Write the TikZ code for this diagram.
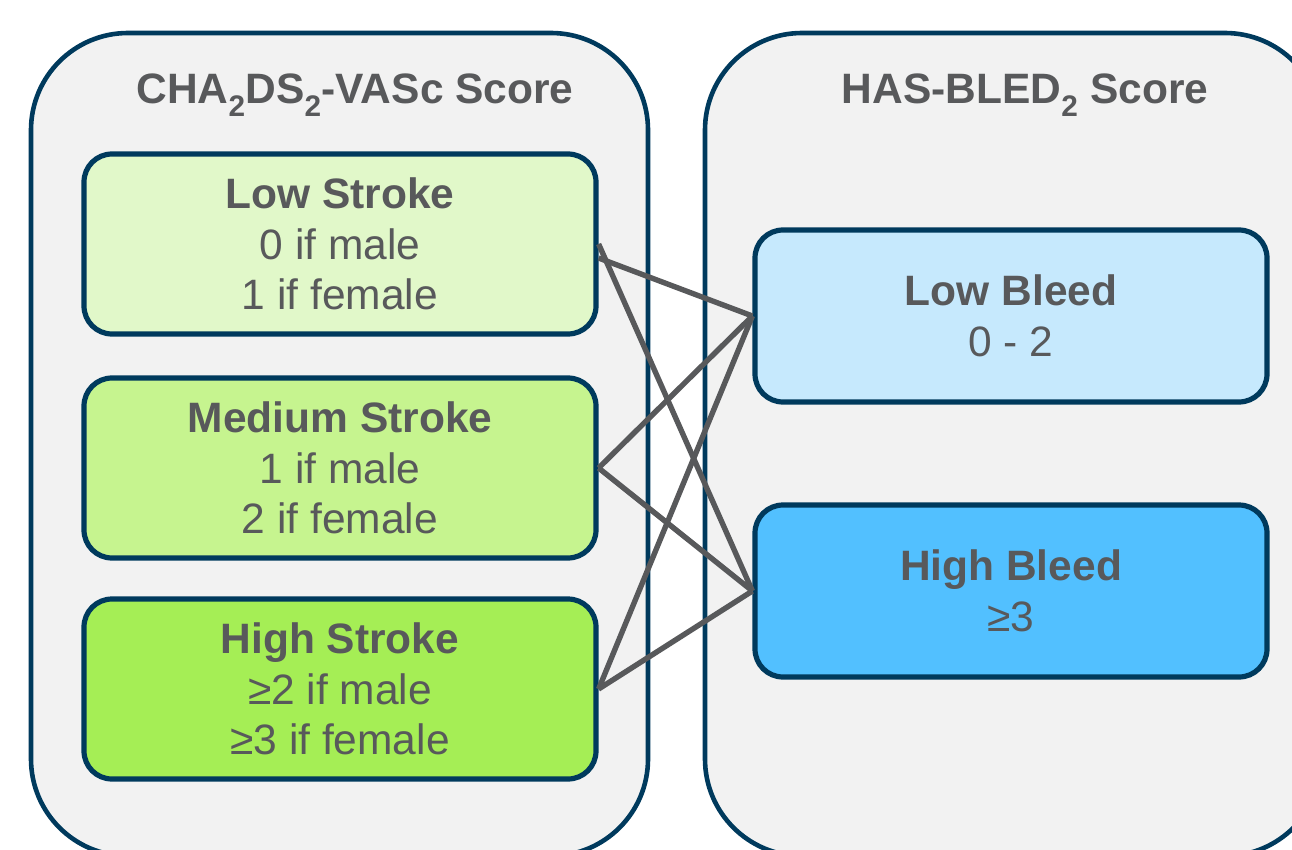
\documentclass[tikz,border=0pt]{standalone}
\usepackage{fontspec}
\setmainfont{Liberation Sans}
\usetikzlibrary{calc}

\definecolor{navy}{HTML}{003A5D}
\definecolor{panel}{HTML}{F2F2F2}
\definecolor{ink}{HTML}{58595B}
\definecolor{strokelow}{HTML}{E1F8C9}
\definecolor{strokemed}{HTML}{C6F48F}
\definecolor{strokehigh}{HTML}{A5EE55}
\definecolor{bleedlow}{HTML}{C6E9FD}
\definecolor{bleedhigh}{HTML}{52C0FF}

\tikzset{
  panelbox/.style={draw=navy, line width=4.6pt, fill=panel, rounded corners=97pt},
  paneltitle/.style={text=ink, inner sep=0pt, anchor=base,
    font=\fontsize{42.5}{50}\selectfont\bfseries},
  catbox/.style={draw=navy, line width=5.2pt, rounded corners=28pt,
    minimum width=512pt, inner sep=0pt, align=center, text=ink,
    font=\fontsize{42.5}{50.5}\selectfont},
  link/.style={draw=ink, line width=5.4pt}
}

\begin{document}
\begin{tikzpicture}[x=1pt, y=-1pt]
  \useasboundingbox (0,0) rectangle (1292,850);
  \clip (0,0) rectangle (1292,850);

  % the two score panels
  \path[panelbox] (31,33) rectangle (648,856);
  \path[panelbox] (705,33) rectangle (1322,856);

  \node[paneltitle] (cha) at (355,104)
    {CHA\textsubscript{2}DS\textsubscript{2}-VASc Score};
  \node[paneltitle] (has) at (1025,104)
    {HAS-BLED\textsubscript{2} Score};

  % stroke risk categories
  \node[catbox, fill=strokelow, minimum height=180pt] (ls) at (340,244)
    {\textbf{Low Stroke}\\0 if male\\1 if female};
  \node[catbox, fill=strokemed, minimum height=180pt] (ms) at (340,468)
    {\textbf{Medium Stroke}\\1 if male\\2 if female};
  \node[catbox, fill=strokehigh, minimum height=180pt] (hs) at (340,689)
    {\textbf{High Stroke}\\≥2 if male\\≥3 if female};

  % bleeding risk categories
  \node[catbox, fill=bleedlow, minimum height=172pt] (lb) at (1011,316)
    {\textbf{Low Bleed}\\0 - 2};
  \node[catbox, fill=bleedhigh, minimum height=172pt] (hb) at (1011,591)
    {\textbf{High Bleed}\\≥3};

  % every stroke category pairs with every bleed category
  \draw[link] ([yshift=-14pt]ls.east) -- (lb.west);
  \draw[link] (ls.east) -- (hb.west);
  \draw[link] (ms.east) -- (lb.west);
  \draw[link] (ms.east) -- (hb.west);
  \draw[link] (hs.east) -- (lb.west);
  \draw[link] (hs.east) -- (hb.west);
\end{tikzpicture}
\end{document}
